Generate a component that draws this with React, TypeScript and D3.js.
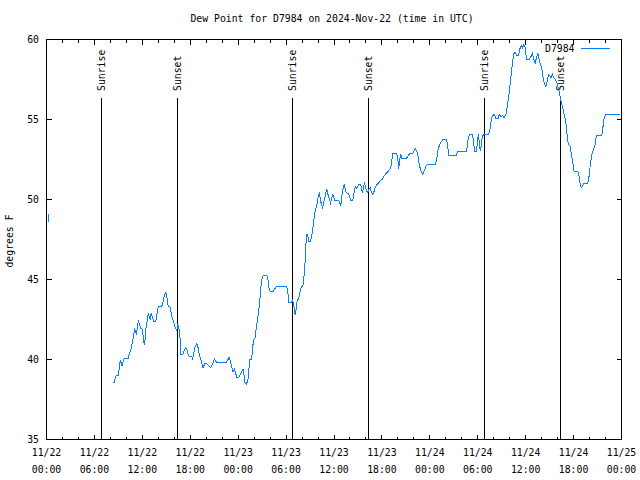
import React from "react";
import * as d3 from "d3";

const TITLE = "Dew Point for D7984 on 2024-Nov-22 (time in UTC)";
const Y_LABEL = "degrees F";
const SERIES_NAME = "D7984";
const START_UTC = Date.UTC(2024, 10, 22, 0, 0);
const END_UTC = Date.UTC(2024, 10, 25, 0, 0);

const yTicks = [35, 40, 45, 50, 55, 60];
const xTickDates = ["11/22", "11/22", "11/22", "11/22", "11/23", "11/23", "11/23", "11/23", "11/24", "11/24", "11/24", "11/24", "11/25"];
const xTickTimes = ["00:00", "06:00", "12:00", "18:00", "00:00", "06:00", "12:00", "18:00", "00:00", "06:00", "12:00", "18:00", "00:00"];

const sunLabels = ["Sunrise", "Sunset", "Sunrise", "Sunset", "Sunrise", "Sunset"];
const sunHours = [6.85, 16.35, 30.85, 40.35, 54.85, 64.35];

// hours since 2024-11-22 00:00 UTC
const hours = [
  0.2, 0.25, 4.0,
  8.44, 8.56, 8.69, 8.85, 8.98, 9.10, 9.23, 9.35, 9.48, 9.60, 9.73, 10.23, 10.35, 10.53, 10.65, 10.78, 10.90,
  11.03, 11.15, 11.28, 11.40, 11.53, 11.65, 11.78, 11.94, 12.06, 12.15, 12.23, 12.35, 12.48, 12.60, 12.73, 12.85,
  12.98, 13.10, 13.23, 13.35, 13.48, 13.65, 13.78, 13.90, 14.03, 14.44, 14.56, 14.69, 14.81, 14.94, 15.06, 15.19,
  15.31, 15.44, 15.56, 15.69, 15.81, 15.94, 16.06, 16.19, 16.31, 16.44, 16.56, 16.69, 16.81, 17.06, 17.19, 17.44,
  17.60, 17.78, 17.94, 18.19, 18.31, 18.44, 18.56, 18.69, 18.81, 18.94, 19.06, 19.19, 19.44, 19.60, 19.81, 20.10,
  20.35, 20.56, 20.78, 21.03, 21.19, 21.44, 22.53, 22.73, 22.85, 23.03, 23.23, 23.35, 23.53, 23.69, 23.85, 24.06,
  24.28, 24.48, 24.60, 24.73, 24.85, 25.03, 25.23, 25.35, 25.44, 25.69, 25.78, 25.94, 26.15, 26.28, 26.44, 26.56,
  26.69, 26.81, 26.98, 27.15, 27.60, 27.73, 27.85, 28.03, 28.35, 28.60, 28.78, 30.10, 30.23, 30.35, 30.65, 30.78,
  30.94, 31.03, 31.15, 31.28, 31.40, 31.56, 31.69, 31.81, 31.94, 32.10, 32.23, 32.35, 32.48, 32.60, 32.73, 32.85,
  33.06, 33.19, 33.31, 33.44, 33.56, 33.69, 33.81, 33.94, 34.06, 34.19, 34.31, 34.44, 34.56, 34.69, 34.81, 34.94,
  35.06, 35.19, 35.31, 35.44, 35.56, 35.73, 35.85, 35.98, 36.10, 36.60, 36.73, 36.85, 36.98, 37.10, 37.28, 37.40,
  37.53, 37.81, 37.94, 38.06, 38.35, 38.48, 38.60, 38.73, 38.85, 38.98, 39.15, 39.31, 39.44, 39.56, 39.69, 39.81,
  39.94, 40.10, 40.23, 40.35, 40.53, 40.65, 40.85, 41.03, 41.19, 41.40, 41.60, 41.85, 42.10, 42.31, 42.53, 42.78,
  43.03, 43.19, 43.35, 43.85, 43.98, 44.10, 44.23, 44.35, 44.48, 45.03, 45.28, 45.44, 45.85, 46.03, 46.19, 46.35,
  46.53, 46.60, 46.78, 46.94, 47.10, 47.28, 47.53, 47.73, 48.69, 48.85, 49.03, 49.19, 49.35, 49.60, 50.10, 50.23,
  50.35, 51.28, 51.53, 52.60, 52.78, 52.94, 53.35, 53.48, 53.60, 53.85, 53.98, 54.10, 54.23, 54.35, 54.53, 54.69,
  55.35, 55.53, 55.69, 55.85, 56.10, 56.28, 56.53, 56.69, 56.94, 57.10, 57.31, 57.53, 57.69, 57.85, 58.03, 58.19,
  58.35, 58.53, 58.69, 58.85, 59.10, 59.28, 59.44, 59.60, 59.78, 59.94, 60.10, 60.44, 60.69, 60.85, 61.03, 61.19,
  61.35, 61.53, 61.69, 61.85, 62.03, 62.19, 62.35, 62.53, 62.69, 62.85, 63.03, 63.19, 63.35, 63.53, 63.69, 63.85,
  64.03, 64.19, 64.35, 64.53, 64.69, 64.85, 65.03, 65.19, 65.35, 65.53, 65.69, 65.85, 66.06, 66.53, 66.69, 66.85,
  67.03, 67.28, 67.78, 67.94, 68.10, 68.28, 68.44, 68.69, 68.85, 69.53, 69.69, 69.85, 70.03, 71.85,
];

// dew point, degrees F (NaN = no data)
const dewPointF = [
  49.1, 48.6, NaN,
  38.54, 38.75, 38.96, 39.02, 39.02, 39.38, 39.96, 39.79, 39.58, 39.89, 40.04, 40.04, 40.31, 40.56, 40.83, 41.14, 41.46,
  41.88, 41.77, 41.56, 42.19, 42.39, 42.19, 41.92, 41.92, 41.67, 41.25, 40.94, 41.25, 42.08, 42.39, 42.86, 42.71,
  42.50, 42.86, 42.71, 42.50, 42.36, 42.36, 42.61, 43.13, 43.33, 43.33, 43.54, 43.86, 44.06, 44.21, 43.96, 43.44,
  43.33, 43.33, 43.08, 42.71, 42.50, 42.33, 42.08, 41.92, 41.81, 42.19, 41.98, 41.67, 40.31, 40.31, 40.52, 40.73,
  40.58, 40.25, 40.17, 40.17, 40.04, 40.38, 40.73, 40.89, 41.00, 40.83, 40.52, 40.21, 39.79, 39.48, 39.73, 39.73,
  39.58, 39.48, 39.69, 40.04, 39.89, 39.79, 39.83, 40.00, 40.17, 39.89, 39.48, 39.21, 39.38, 39.13, 38.86, 38.86,
  39.06, 39.27, 39.42, 39.06, 38.54, 38.44, 38.75, 39.38, 40.00, 40.00, 40.63, 41.25, 41.36, 42.08, 42.50, 43.02,
  43.54, 44.38, 45.00, 45.25, 45.25, 45.00, 44.48, 44.23, 44.23, 44.42, 44.54, 44.54, 44.17, 43.54, 43.54, 43.71,
  43.54, 43.13, 42.77, 43.23, 43.75, 43.75, 44.06, 44.38, 44.54, 44.58, 45.11, 45.83, 47.19, 47.86, 47.71, 47.39,
  47.39, 47.71, 48.02, 48.54, 49.06, 49.38, 49.58, 49.89, 50.31, 50.42, 49.89, 49.73, 49.42, 49.79, 50.00, 50.31,
  50.67, 50.46, 50.17, 50.00, 49.79, 50.11, 50.31, 50.11, 49.96, 49.96, 49.79, 49.58, 50.21, 50.63, 50.94, 50.67,
  50.42, 50.38, 50.21, 49.96, 49.96, 50.31, 50.67, 50.79, 50.67, 50.83, 50.96, 50.96, 50.73, 50.42, 50.73, 51.00,
  50.79, 50.52, 50.46, 50.63, 50.73, 50.52, 50.31, 50.52, 50.79, 50.94, 51.04, 51.21, 51.29, 51.50, 51.63, 51.77,
  51.92, 52.19, 52.86, 52.86, 52.61, 51.92, 52.50, 52.86, 52.54, 52.54, 52.71, 52.86, 52.86, 53.02, 53.19, 53.02,
  52.71, 52.39, 51.98, 51.71, 51.56, 51.77, 52.08, 52.19, 52.19, 52.50, 53.13, 53.38, 53.54, 53.73, 53.73, 53.38,
  52.75, 52.75, 53.02, 53.02, 53.71, 54.06, 54.06, 53.54, 53.02, 53.02, 53.75, 54.06, 53.33, 53.02, 53.75, 54.06,
  54.06, 54.38, 54.96, 55.25, 55.31, 55.04, 55.04, 55.31, 55.17, 55.25, 55.11, 55.31, 55.83, 56.36, 57.08, 57.81,
  58.54, 59.13, 59.21, 59.00, 59.00, 59.42, 59.63, 59.48, 59.69, 59.48, 58.75, 58.75, 58.96, 59.13, 58.75, 58.54,
  58.86, 59.13, 58.75, 58.44, 58.13, 57.61, 57.19, 57.08, 57.39, 57.81, 57.75, 57.61, 57.81, 57.61, 57.50, 57.39,
  57.08, 56.77, 56.36, 55.94, 55.63, 55.25, 54.83, 54.00, 53.44, 53.38, 52.92, 52.50, 51.77, 51.77, 51.46, 50.83,
  50.73, 51.00, 51.00, 51.46, 52.19, 52.81, 53.02, 53.44, 54.00, 54.00, 54.58, 55.17, 55.29, 55.29,
];

const W = 640;
const H = 480;
const M = { left: 46.5, right: 621.5, top: 39.5, bottom: 439.5 };
const FONT = "'DejaVu Sans Mono', 'Liberation Mono', monospace";
const LINE_COLOR = "#0a80ff";

const hourToDate = (h: number) => new Date(START_UTC + h * 3600 * 1000);

export default function App() {
  const x = d3.scaleUtc().domain([new Date(START_UTC), new Date(END_UTC)]).range([M.left, M.right]);
  const y = d3.scaleLinear().domain([35, 60]).range([M.bottom, M.top]);

  const points = hours.map((h, i) => ({ t: hourToDate(h), v: dewPointF[i] }));
  const line = d3
    .line<{ t: Date; v: number }>()
    .defined((d) => !Number.isNaN(d.v))
    .x((d) => x(d.t))
    .y((d) => y(d.v));

  const majorTicks = x.ticks(d3.utcHour.every(6)!);
  const minorTicks = x.ticks(d3.utcHour.every(2)!).filter((d) => d.getUTCHours() % 6 !== 0);

  const fs = 9.8;

  return (
    <svg width={W} height={H} style={{ display: "block", position: "absolute", left: 0, top: 0, background: "#fff" }} fontFamily={FONT} fontSize={fs}>
      <rect x={0} y={0} width={W} height={H} fill="#fff" />
      {/* title */}
      <text x={332} y={19} textAnchor="middle" dy="0.35em" fill="#000">{TITLE}</text>
      {/* y label */}
      <text transform={`translate(10,241) rotate(-90)`} textAnchor="middle" dy="0.35em" fill="#000">{Y_LABEL}</text>

      {/* y ticks */}
      {yTicks.map((v) => (
        <g key={"y" + v} shapeRendering="crispEdges">
          <line x1={M.left} x2={M.left + 5} y1={y(v)} y2={y(v)} stroke="#000" />
          <line x1={M.right} x2={M.right - 5} y1={y(v)} y2={y(v)} stroke="#000" />
          <text x={39} y={y(v)} textAnchor="end" dy="0.35em" fill="#000" shapeRendering="auto">{v}</text>
        </g>
      ))}

      {/* x ticks */}
      {majorTicks.map((d, i) => (
        <g key={"xm" + i}>
          <g shapeRendering="crispEdges">
            <line x1={x(d)} x2={x(d)} y1={M.bottom} y2={M.bottom - 5} stroke="#000" />
            <line x1={x(d)} x2={x(d)} y1={M.top} y2={M.top + 5} stroke="#000" />
          </g>
          <text x={x(d)} y={453} textAnchor="middle" dy="0.35em" fill="#000">{xTickDates[i]}</text>
          <text x={x(d)} y={470} textAnchor="middle" dy="0.35em" fill="#000">{xTickTimes[i]}</text>
        </g>
      ))}
      {minorTicks.map((d, i) => (
        <g key={"xn" + i} shapeRendering="crispEdges">
          <line x1={x(d)} x2={x(d)} y1={M.bottom} y2={M.bottom - 3} stroke="#000" />
          <line x1={x(d)} x2={x(d)} y1={M.top} y2={M.top + 3} stroke="#000" />
        </g>
      ))}

      {/* sunrise / sunset */}
      {sunHours.map((h, i) => {
        const sx = x(hourToDate(h));
        return (
          <g key={"sun" + i}>
            <line x1={sx} x2={sx} y1={98} y2={M.bottom} stroke="#000" shapeRendering="crispEdges" />
            <text transform={`translate(${sx},91) rotate(-90)`} textAnchor="start" dy="0.35em" fill="#000">{sunLabels[i]}</text>
          </g>
        );
      })}

      {/* data */}
      <path d={line(points) || ""} fill="none" stroke={LINE_COLOR} strokeWidth={1} shapeRendering="crispEdges" />

      {/* border */}
      <rect x={M.left} y={M.top} width={M.right - M.left} height={M.bottom - M.top} fill="none" stroke="#000" shapeRendering="crispEdges" />

      {/* legend */}
      <text x={574.5} y={49} textAnchor="end" dy="0.35em" fill="#000">{SERIES_NAME}</text>
      <line x1={581} x2={610} y1={48.5} y2={48.5} stroke={LINE_COLOR} shapeRendering="crispEdges" />
    </svg>
  );
}
